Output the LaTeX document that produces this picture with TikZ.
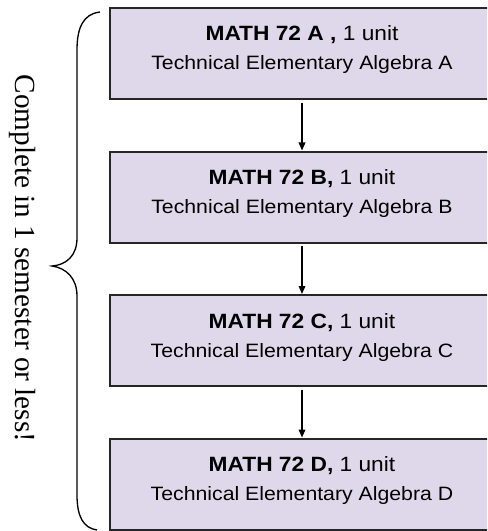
\documentclass[tikz,border=0pt]{standalone}
\usepackage{fontspec}
\setmainfont{Liberation Serif}
\newfontfamily\boxfont{Liberation Sans}
\usetikzlibrary{arrows.meta}
\definecolor{lavender}{RGB}{223,216,234}
\newcommand{\wide}[1]{\scalebox{1.1}[1]{#1}}

\begin{document}
\begin{tikzpicture}[x=0.75pt, y=-0.75pt,
    course/.style={draw=black!85, line width=1.5pt, fill=lavender, minimum width=288pt, minimum height=68.25pt, inner sep=0pt},
    label/.style={font=\boxfont, anchor=base, inner sep=0pt},
    flow/.style={-{Triangle[length=6pt,width=5pt]}, line width=1pt, shorten <=2pt}]
            \useasboundingbox (0,0) rectangle (487,531);
            \clip (0,0) rectangle (487,531);
            \foreach \l [count=\i] in {A,B,C,D} {
                \pgfmathsetmacro{\y}{8 + (\i - 1)*143.5}
                \node[course] (M\l) at (302, \y + 45.5) {};
                \node[label] (N\l) at (302, \y + 33)
                    {\wide{\fontsize{15.5}{18}\selectfont\textbf{MATH 72 \l\ifnum\i=1\ \fi,} 1 unit}};
                \node[label] (T\l) at (302, \y + 62)
                    {\wide{\fontsize{14.5}{17}\selectfont Technical Elementary Algebra \l}};
            }
            \draw [flow] (MA) -- (MB);
            \draw [flow] (MB) -- (MC);
            \draw [flow] (MC) -- (MD);

            \draw [line width=1pt] (100,12) .. controls (83,14) and (77,28) .. (77,50) -- (77,238)
                .. controls (77,256) and (66,265) .. (52,266)
                .. controls (66,268) and (77,278) .. (77,296) -- (77,495)
                .. controls (77,516) and (83,528) .. (97,530);
            \node[rotate=-90, anchor=base, inner sep=0pt, font=\fontsize{21.9}{26}\selectfont] (note) at (16, 258.5) {Complete in 1 semester or less!};

        \end{tikzpicture}
\end{document}
